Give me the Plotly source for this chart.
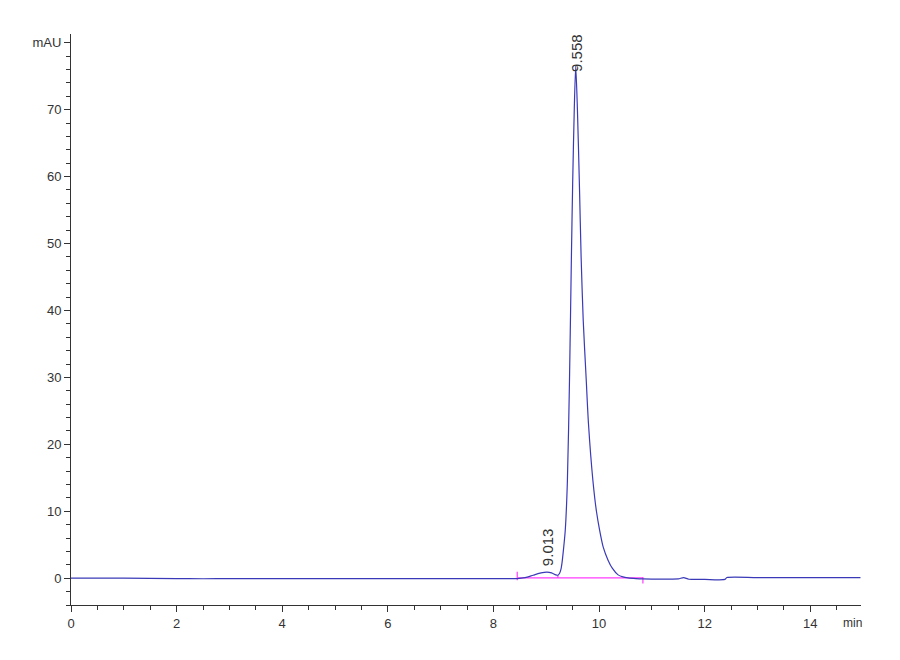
import plotly.graph_objects as go

# Chromatogram signal (time in min, absorbance in mAU)
time_min = [0.0, 1.0, 2.0, 2.5, 3.0, 4.0, 5.0, 6.0, 7.0, 8.0, 8.45, 8.6, 8.75, 8.9, 9.013,
            9.1, 9.18, 9.22, 9.25, 9.28, 9.30, 9.33, 9.36, 9.40, 9.44, 9.475, 9.50, 9.53,
            9.558, 9.59, 9.63, 9.66, 9.70, 9.757, 9.80, 9.883, 9.95, 10.01, 10.08, 10.17,
            10.25, 10.36, 10.45, 10.55, 10.7, 10.83, 11.0, 11.3, 11.5, 11.6, 11.7, 12.0,
            12.38, 12.42, 13.0, 14.0, 14.95]
signal_mau = [0.0, 0.0, -0.05, -0.08, -0.05, -0.05, -0.05, -0.05, -0.05, -0.05, -0.05, 0.1,
              0.45, 0.8, 0.92, 0.8, 0.5, 0.45, 0.7, 1.4, 2.4, 4.6, 7.2, 14.5, 29.6, 47.5,
              59.0, 70.0, 76.5, 70.0, 58.0, 48.0, 38.5, 29.6, 23.0, 14.6, 10.0, 7.2, 4.6,
              2.7, 1.5, 0.5, 0.2, 0.05, -0.05, -0.1, -0.12, -0.12, -0.1, 0.1, -0.15, -0.18,
              -0.18, 0.1, 0.1, 0.1, 0.1]

# Integration baseline and event markers
baseline_time = [8.45, 10.83]
baseline_mau = [0.05, 0.05]
event_start = [8.45, 8.45]
event_start_mau = [-0.3, 0.95]
event_end = [10.83, 10.83]
event_end_mau = [0.2, -0.8]
valley_drop_time = [9.22, 9.22]
valley_drop_mau = [0.05, 0.45]

# Peak labels
peak_times = [9.013, 9.558]
peak_labels = ["9.013", "9.558"]
label_base_mau = [1.5, 75.3]

x_ticks = [0, 2, 4, 6, 8, 10, 12, 14]
y_ticks = [0, 10, 20, 30, 40, 50, 60, 70, 80]
y_ticktext = ["0", "10", "20", "30", "40", "50", "60", "70", "mAU"]

font_family = "Liberation Sans, Arial, sans-serif"
magenta = "#ff3cff"

fig = go.Figure()
for xs, ys in [(baseline_time, baseline_mau), (event_start, event_start_mau),
               (event_end, event_end_mau), (valley_drop_time, valley_drop_mau)]:
    fig.add_trace(go.Scatter(x=xs, y=ys, mode="lines",
                             line=dict(color=magenta, width=1.2), showlegend=False))

fig.add_trace(go.Scatter(x=time_min, y=signal_mau, mode="lines",
                         line=dict(color="#3a3ab8", width=1.2, shape="spline", smoothing=0.7),
                         showlegend=False))

for t, lab, yb in zip(peak_times, peak_labels, label_base_mau):
    fig.add_annotation(x=t, y=yb, text=lab, textangle=-90, showarrow=False,
                       xanchor="center", yanchor="bottom",
                       font=dict(family=font_family, size=15, color="#333333"))

fig.add_annotation(x=14.8, y=0, xref="x", yref="paper", text="min", showarrow=False,
                   xanchor="center", yanchor="top", yshift=-9,
                   font=dict(family=font_family, size=12, color="#333333"))

fig.update_xaxes(range=[0, 14.96], tickvals=x_ticks, ticks="outside", ticklen=6,
                 tickcolor="#333333", showline=True, linecolor="#333333", linewidth=1,
                 showgrid=False, zeroline=False,
                 minor=dict(ticks="outside", ticklen=4, dtick=0.5, tick0=0, tickcolor="#333333"),
                 tickfont=dict(family=font_family, size=13, color="#333333"))
fig.update_yaxes(range=[-4.0, 81.3], tickvals=y_ticks, ticktext=y_ticktext, ticks="outside",
                 ticklen=6, tickcolor="#333333", showline=True, linecolor="#333333",
                 linewidth=1, showgrid=False, zeroline=False,
                 minor=dict(ticks="outside", ticklen=4, dtick=2, tick0=0, tickcolor="#333333"),
                 tickfont=dict(family=font_family, size=13, color="#333333"))

fig.update_layout(width=900, height=660, margin=dict(l=63, r=47, t=26, b=63),
                  plot_bgcolor="white", paper_bgcolor="white")

fig.write_html("out.html")
